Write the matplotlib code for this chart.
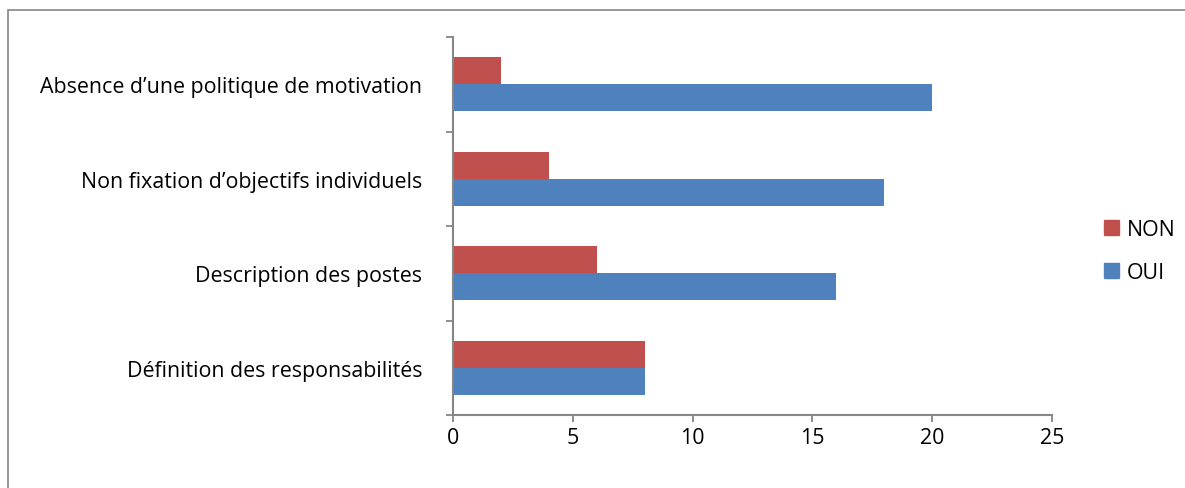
import numpy as np
import matplotlib
matplotlib.use("Agg")
import matplotlib.pyplot as plt
from matplotlib.patches import Rectangle, Patch

# Données du graphique
categories = ["Définition des responsabilités",
              "Description des postes",
              "Non fixation d\u2019objectifs individuels",
              "Absence d\u2019une politique de motivation"]
oui = [8, 16, 18, 20]
non = [8, 6, 4, 2]
xticks = [0, 5, 10, 15, 20, 25]

ROUGE = "#C0504D"
BLEU = "#4F81BD"
GRIS = "#868686"
FS = 15.4

plt.rcParams["font.family"] = ["Open Sans", "DejaVu Sans"]

fig = plt.figure(figsize=(11.85, 4.89), dpi=100)
ax = fig.add_axes([453 / 1185, 1 - 416 / 489, (1052 - 453) / 1185, (416 - 38) / 489])

# cadre extérieur du graphique
fig.patches.append(Rectangle((8 / 1185, -0.1), 1.2, 1 - 10.5 / 489 + 0.1,
                             transform=fig.transFigure, fill=False,
                             edgecolor=GRIS, linewidth=1.2))

y = np.arange(len(categories))
h = 0.285
ax.barh(y - h / 2, oui, height=h, color=BLEU, label="OUI")
ax.barh(y + h / 2, non, height=h, color=ROUGE, label="NON")

ax.set_xlim(0, 25)
ax.set_ylim(-0.5, len(categories) - 0.5)
ax.set_xticks(xticks)
ax.set_yticks(y)
ax.set_yticklabels(categories)
ax.set_yticks(np.arange(-0.5, len(categories)), minor=True)

for s in ["top", "right"]:
    ax.spines[s].set_visible(False)
for s in ["left", "bottom"]:
    ax.spines[s].set_color(GRIS)
    ax.spines[s].set_linewidth(1.5)

ax.tick_params(axis="y", which="major", length=0, pad=22, labelsize=FS)
ax.tick_params(axis="y", which="minor", length=5, width=1.3, color=GRIS)
ax.tick_params(axis="x", length=5, width=1.3, color=GRIS, pad=4, labelsize=FS)

handles = [Patch(color=ROUGE, label="NON"), Patch(color=BLEU, label="OUI")]
fig.legend(handles=handles, loc="center left", bbox_to_anchor=(1104 / 1185, 1 - 252 / 489),
           frameon=False, fontsize=FS, handlelength=0.68, handleheight=0.68,
           handletextpad=0.4, labelspacing=1.05, borderpad=0, borderaxespad=0)

fig.savefig("out.png", dpi=100)
